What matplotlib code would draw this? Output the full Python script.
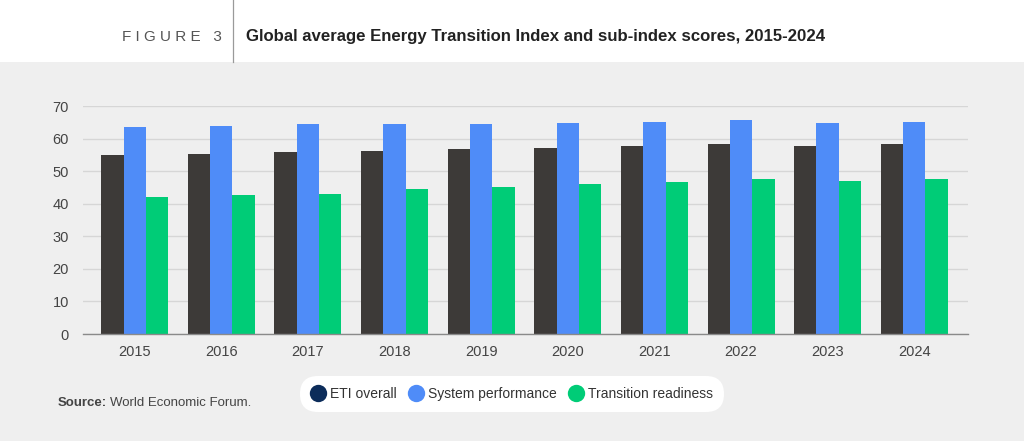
import matplotlib
matplotlib.use("Agg")
import matplotlib.pyplot as plt
import numpy as np
from matplotlib.lines import Line2D
from matplotlib.patches import Rectangle

years = ["2015", "2016", "2017", "2018", "2019", "2020", "2021", "2022", "2023", "2024"]
eti_overall = [55.0, 55.4, 55.9, 56.3, 56.7, 57.2, 57.6, 58.4, 57.6, 58.2]
system_performance = [63.5, 64.0, 64.4, 64.4, 64.6, 64.8, 65.1, 65.6, 64.9, 65.2]
transition_readiness = [42.0, 42.7, 43.1, 44.5, 45.2, 45.9, 46.7, 47.5, 46.9, 47.7]
series_names = ["ETI overall", "System performance", "Transition readiness"]
yticks = [0, 10, 20, 30, 40, 50, 60, 70]

bar_colors = ["#3d3a38", "#4f8cf8", "#00cc77"]
legend_colors = ["#0c2c5a", "#4f8cf8", "#00cc77"]
bg = "#efefef"

plt.rcParams['font.family'] = ['Liberation Sans', 'DejaVu Sans']

fig = plt.figure(figsize=(10.24, 4.41), dpi=100)
fig.patch.set_facecolor(bg)
H = 441.0
W = 1024.0
# white header
fig.patches.append(Rectangle((0, 1 - 62 / H), 1, 62 / H, transform=fig.transFigure,
                             facecolor="white", edgecolor="none", zorder=0))
fig.lines.append(Line2D([233 / W, 233 / W], [1 - 62 / H, 1], transform=fig.transFigure,
                        color="#9a9a9a", lw=0.9))
fig.text(222 / W, 1 - 37 / H, "F I G U R E   3", ha="right", va="center",
         fontsize=11, color="#555555", fontweight="light")
fig.text(246 / W, 1 - 37 / H,
         "Global average Energy Transition Index and sub-index scores, 2015-2024",
         ha="left", va="center", fontsize=12.1, fontweight="bold", color="#222222")

ax = fig.add_axes([82.7 / W, 1 - 334 / H, (968 - 82.7) / W, (334 - 106) / H])
ax.set_facecolor(bg)
x = np.arange(len(years))
w = 0.258
for i, (vals, c) in enumerate(zip([eti_overall, system_performance, transition_readiness], bar_colors)):
    ax.bar(x + (i - 1) * w, vals, width=w, color=c, zorder=3, label=series_names[i])

ax.set_xlim(-0.6, len(years) - 1 + 0.62)
ax.set_ylim(0, 70)
ax.set_yticks(yticks)
ax.set_xticks(x)
ax.set_xticklabels(years)
ax.grid(axis="y", color="#d6d6d6", lw=1, zorder=0)
for s in ["top", "right", "left"]:
    ax.spines[s].set_visible(False)
ax.spines["bottom"].set_color("#8a8a8a")
ax.spines["bottom"].set_linewidth(1)
ax.spines["bottom"].set_zorder(4)
ax.tick_params(axis="both", length=0, labelsize=10.5, colors="#444444")
ax.tick_params(axis="y", pad=10)
ax.tick_params(axis="x", pad=8)

handles = [Line2D([], [], marker="o", linestyle="none", markersize=12.5,
                  markerfacecolor=c, markeredgecolor="none") for c in legend_colors]
leg = fig.legend(handles, series_names, loc="center", bbox_to_anchor=(512 / W, 1 - 394 / H),
                 ncol=3, frameon=True, fontsize=10, handletextpad=0.35, columnspacing=0.9,
                 handlelength=1.0, borderpad=0.55, labelcolor="#333333")
fr = leg.get_frame()
fr.set_facecolor("white")
fr.set_edgecolor("none")
fr.set_alpha(1)
fr.set_boxstyle("round,pad=0.25,rounding_size=1.3")

src = fig.text(58 / W, 1 - 403 / H, "Source:", ha="left", va="center", fontsize=9.5,
               fontweight="bold", color="#444444")
fig.canvas.draw()
bb = src.get_window_extent(renderer=fig.canvas.get_renderer())
fig.text((bb.x1 + 3) / W, 1 - 403 / H, "World Economic Forum.", ha="left", va="center",
         fontsize=9.5, color="#444444")

fig.savefig("out.png", dpi=100, facecolor=fig.get_facecolor())
